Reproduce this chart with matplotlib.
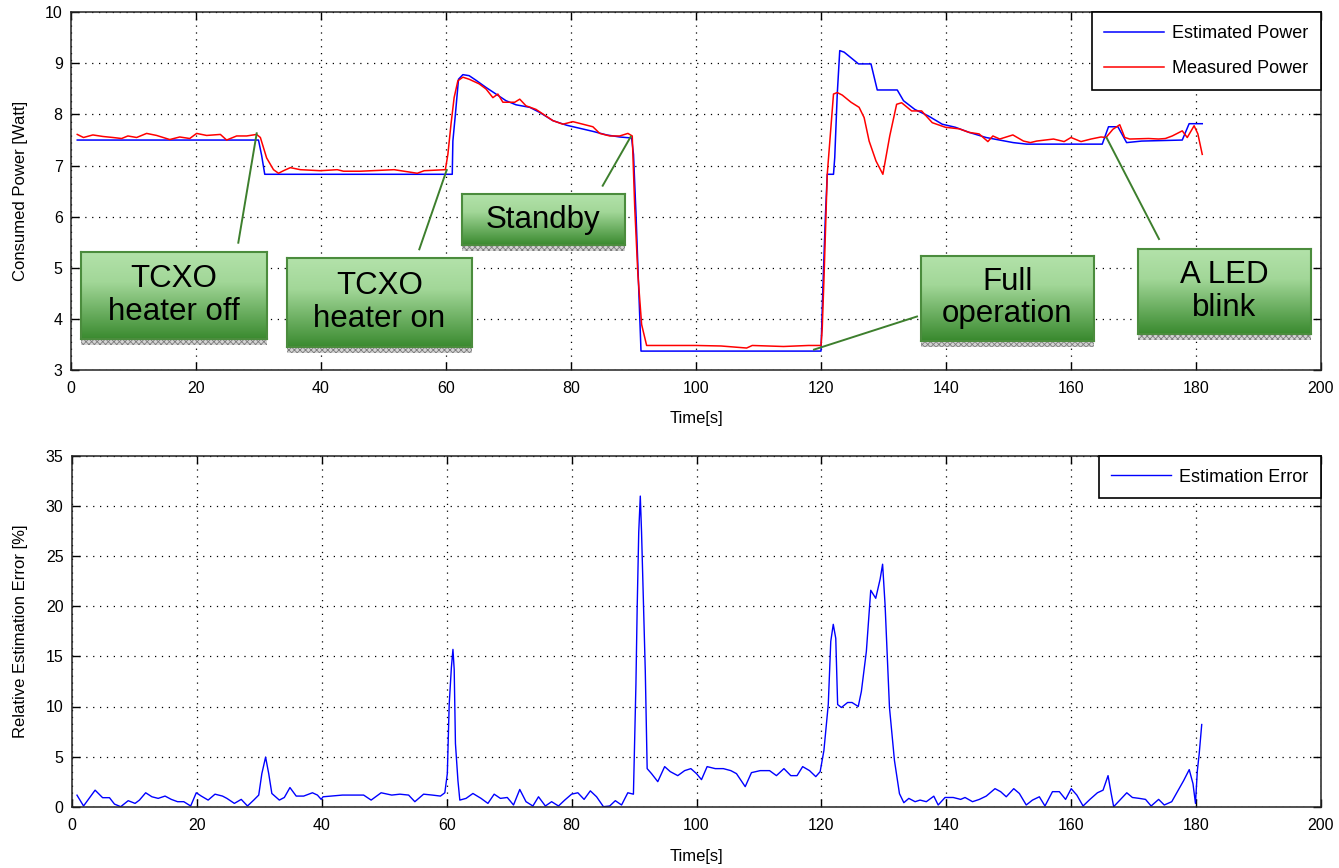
import numpy as np
import matplotlib
matplotlib.use("Agg")
import matplotlib.pyplot as plt
from matplotlib.lines import Line2D
from matplotlib.patches import Rectangle
from matplotlib.colors import LinearSegmentedColormap

plt.rcParams['font.family'] = ['Liberation Sans', 'DejaVu Sans']
plt.rcParams['hatch.linewidth'] = 0.6

# ---------------- data ----------------
est_time = [1, 30, 30.5, 31, 61, 61.1, 61.5, 62, 62.7, 63.7,
            64.8, 66.4, 68, 69.6, 71.2, 73.4, 75, 77.1, 79.3, 81.4,
            83.5, 85.7, 87.8, 89.7, 90, 90.4, 90.75, 91.2, 120, 120.3,
            120.7, 121, 122, 122.2, 122.6, 123, 123.7, 126, 128, 129,
            132.2, 133.2, 135, 137.2, 139.4, 141.5, 143.7, 146.4, 150.75, 152.9,
            165, 166, 167.5, 168.9, 171.3, 177.8, 178.9, 181]
est_power = [7.5, 7.5, 7.2, 6.83, 6.83, 7.48, 8.0, 8.69, 8.78, 8.76,
             8.67, 8.53, 8.4, 8.27, 8.19, 8.14, 8.04, 7.88, 7.79, 7.73,
             7.67, 7.6, 7.56, 7.54, 7.22, 6.05, 4.87, 3.37, 3.37, 4.6,
             6.0, 6.83, 6.83, 7.16, 8.4, 9.25, 9.22, 8.99, 8.99, 8.48,
             8.48, 8.27, 8.1, 7.97, 7.81, 7.75, 7.65, 7.55, 7.45, 7.42,
             7.42, 7.76, 7.76, 7.45, 7.48, 7.5, 7.82, 7.82]

meas_time = [1, 2, 3.5, 5.1, 6.7, 8.1, 9.1, 10.5, 12.1, 13.7,
             15.8, 17.4, 19, 20.1, 21.7, 23.9, 24.9, 26.5, 28.1, 29.7,
             30.3, 31.3, 32.4, 33.2, 34, 35.1, 36.7, 39.9, 42.6, 43.6,
             46.3, 51.7, 55.4, 56.5, 59.9, 60.3, 60.8, 61.3, 61.9, 62.7,
             63.7, 65.3, 66.4, 67.5, 68.3, 69.1, 69.9, 71, 71.8, 72.8,
             74.4, 76, 77.1, 78.7, 80.3, 81.9, 83.5, 84.6, 86.2, 87.8,
             89.1, 89.8, 90.2, 90.7, 91.3, 92.1, 96, 100, 104, 108.1,
             109, 114, 118, 120, 120.2, 120.5, 121, 122, 122.6, 123.4,
             124.8, 126.1, 126.9, 127.7, 128.8, 129.9, 131, 132.1, 132.9, 134.5,
             136.1, 137.8, 139.9, 142.1, 143.7, 145.3, 146.7, 147.5, 148.6, 150.7,
             152.4, 153.5, 154.5, 157.2, 158.9, 160, 161.6, 163.2, 164.8, 165.6,
             166.7, 167.8, 168.6, 169.4, 172.4, 174, 175.1, 176.2, 177.8, 178.6,
             179.7, 180.3, 181]
meas_power = [7.61, 7.55, 7.6, 7.57, 7.55, 7.53, 7.58, 7.55, 7.63, 7.59,
              7.51, 7.56, 7.53, 7.63, 7.59, 7.61, 7.5, 7.58, 7.58, 7.61,
              7.55, 7.15, 6.92, 6.85, 6.9, 6.96, 6.92, 6.9, 6.92, 6.89,
              6.89, 6.92, 6.85, 6.9, 6.92, 7.22, 7.81, 8.33, 8.66, 8.73,
              8.69, 8.6, 8.5, 8.33, 8.4, 8.24, 8.24, 8.24, 8.3, 8.17,
              8.1, 7.97, 7.88, 7.81, 7.86, 7.81, 7.76, 7.63, 7.58, 7.58,
              7.63, 7.58, 6.17, 4.87, 3.89, 3.48, 3.48, 3.48, 3.47, 3.43,
              3.48, 3.46, 3.48, 3.48, 3.82, 4.87, 6.83, 8.4, 8.43, 8.38,
              8.24, 8.14, 7.94, 7.48, 7.09, 6.83, 7.58, 8.2, 8.23, 8.07,
              8.07, 7.84, 7.75, 7.72, 7.65, 7.62, 7.47, 7.58, 7.52, 7.6,
              7.48, 7.45, 7.48, 7.52, 7.47, 7.55, 7.47, 7.52, 7.56, 7.55,
              7.71, 7.8, 7.55, 7.52, 7.53, 7.52, 7.53, 7.58, 7.68, 7.55,
              7.78, 7.62, 7.22]

err_time = [0.8, 1.85, 3.7, 4.9, 6.0, 6.8, 7.8, 9.0, 10.1, 10.8,
            11.8, 12.8, 13.8, 14.9, 15.9, 16.9, 17.9, 19.0, 19.9, 20.7,
            21.8, 22.9, 24.1, 24.8, 26.0, 27.1, 28.1, 29.1, 29.9, 30.4,
            31.0, 31.5, 32.0, 33.2, 34.0, 34.9, 35.9, 37.1, 38.5, 39.3,
            39.9, 40.2, 43.3, 46.7, 47.9, 49.5, 51.2, 52.5, 53.9, 54.9,
            56.3, 57.7, 59.0, 59.7, 60.1, 60.4, 60.75, 61.0, 61.2, 61.4,
            61.8, 62.1, 63.1, 64.2, 65.5, 66.6, 67.6, 68.6, 69.7, 70.7,
            71.7, 72.7, 73.8, 74.7, 75.8, 76.8, 77.9, 78.9, 80.0, 81.0,
            82.0, 83.0, 84.0, 85.1, 86.1, 87.0, 88.0, 89.0, 89.9, 90.3,
            90.5, 90.75, 91.0, 91.2, 91.5, 91.8, 92.1, 92.8, 93.8, 94.9,
            95.8, 97.0, 98.1, 99.1, 100.0, 100.8, 101.7, 103.0, 104.3, 105.5,
            106.4, 107.8, 108.8, 110.2, 111.7, 112.8, 114.0, 115.1, 116.1, 117.0,
            118.1, 119.1, 119.8, 120.4, 121.1, 121.5, 121.9, 122.3, 122.6, 123.2,
            124.2, 124.9, 125.9, 126.4, 127.2, 127.9, 128.7, 129.4, 129.8, 130.2,
            130.9, 131.7, 132.5, 133.2, 134.0, 135.0, 135.8, 136.8, 138.0, 138.7,
            139.8, 141.1, 142.3, 143.0, 144.2, 145.3, 146.4, 147.8, 148.7, 149.6,
            150.8, 151.7, 152.8, 153.8, 154.9, 155.8, 157.0, 158.1, 159.1, 160.0,
            160.9, 161.9, 163.0, 164.2, 165.1, 165.9, 166.4, 166.8, 167.9, 168.9,
            169.8, 170.9, 171.9, 172.8, 174.0, 174.9, 176.1, 177.0, 178.0, 178.9,
            179.5, 179.9, 180.2, 180.5, 180.9]
err_pct = [1.15, 0.07, 1.65, 0.9, 0.9, 0.26, 0.0, 0.6, 0.33, 0.66,
           1.39, 0.99, 0.83, 1.06, 0.73, 0.5, 0.5, 0.07, 1.39, 1.06,
           0.66, 1.25, 1.06, 0.83, 0.33, 0.73, 0.07, 0.66, 1.16, 3.3,
           4.95, 3.3, 1.32, 0.66, 0.92, 1.91, 1.06, 1.06, 1.39, 1.16,
           0.73, 0.99, 1.16, 1.16, 0.66, 1.39, 1.16, 1.25, 1.16, 0.5,
           1.25, 1.16, 1.06, 1.39, 3.3, 10.2, 13.9, 15.7, 13.7, 6.3,
           2.6, 0.66, 0.83, 1.32, 0.83, 0.33, 1.25, 0.83, 0.92, 0.17,
           1.72, 0.5, 0.07, 0.99, 0.07, 0.5, 0.07, 0.66, 1.25, 1.39,
           0.73, 1.58, 0.99, 0.0, 0.07, 0.6, 0.17, 1.39, 1.25, 12.2,
           19.8, 27.4, 31.0, 27.4, 20.5, 13.5, 3.8, 3.3, 2.5, 4.0,
           3.5, 3.1, 3.6, 3.8, 3.3, 2.7, 4.0, 3.8, 3.8, 3.6,
           3.3, 2.0, 3.4, 3.6, 3.6, 3.1, 3.8, 3.1, 3.1, 4.0,
           3.6, 3.0, 3.5, 5.6, 10.2, 16.5, 18.2, 16.8, 10.2, 9.9,
           10.4, 10.4, 10.0, 11.5, 15.5, 21.6, 20.8, 22.7, 24.2, 20.1,
           9.9, 4.6, 1.3, 0.4, 0.83, 0.5, 0.66, 0.5, 1.05, 0.17,
           0.92, 0.92, 0.73, 0.92, 0.5, 0.73, 1.06, 1.8, 1.5, 0.99,
           1.8, 1.32, 0.17, 0.66, 0.99, 0.07, 1.5, 1.5, 0.73, 1.8,
           1.16, 0.07, 0.73, 1.39, 1.65, 3.1, 1.32, 0.0, 0.73, 1.39,
           0.92, 0.83, 0.73, 0.07, 0.73, 0.17, 0.5, 1.5, 2.6, 3.7,
           2.3, 0.33, 3.6, 5.3, 8.2]

x_ticks = [0, 20, 40, 60, 80, 100, 120, 140, 160, 180, 200]
power_ticks = [3, 4, 5, 6, 7, 8, 9, 10]
err_ticks = [0, 5, 10, 15, 20, 25, 30, 35]

annotation_labels = ['TCXO\nheater off', 'TCXO\nheater on', 'Standby',
                     'Full\noperation', 'A LED\nblink']

# ---------------- figure ----------------
W, H = 1339, 868
fig = plt.figure(figsize=(W / 100, H / 100), dpi=100)
fig.patch.set_facecolor('white')

ax1 = fig.add_axes([71 / W, 1 - 370 / H, 1250 / W, (370 - 12.3) / H])
ax2 = fig.add_axes([72 / W, 1 - 806.7 / H, 1249 / W, (806.7 - 456) / H])

ax1.plot(est_time, est_power, color='#0000ff', lw=1.1, label='Estimated Power')
ax1.plot(meas_time, meas_power, color='#ff0000', lw=1.1, label='Measured Power')
ax1.set_xlim(0, 200)
ax1.set_ylim(3, 10)
ax1.set_yticks(power_ticks)

ax2.plot(err_time, err_pct, color='#0000ff', lw=1.0, label='Estimation Error')
ax2.set_xlim(0, 200)
ax2.set_ylim(0, 35)
ax2.set_yticks(err_ticks)

for ax in (ax1, ax2):
    ax.set_xticks(x_ticks)
    ax.grid(True, color='black', linestyle=(0, (1, 4.5)), linewidth=0.9)
    ax.tick_params(direction='in', top=True, right=True, length=6, width=1,
                   labelsize=11.5, pad=6)
    ax.tick_params(axis='x', pad=8)
    for s in ax.spines.values():
        s.set_linewidth(1.1)
        s.set_color('#222222')

ax1.set_ylabel('Consumed Power [Watt]', fontsize=12)
ax1.yaxis.set_label_coords(-0.034, 0.5)
ax1.set_xlabel('Time[s]', fontsize=12)
ax1.xaxis.set_label_coords(0.5, -0.115)
ax2.set_ylabel('Relative Estimation Error [%]', fontsize=12)
ax2.yaxis.set_label_coords(-0.035, 0.5)
ax2.set_xlabel('Time[s]', fontsize=12)
ax2.xaxis.set_label_coords(0.5, -0.122)

for ax in (ax1, ax2):
    leg = ax.legend(loc='upper right', fontsize=13, fancybox=False,
                    edgecolor='black', framealpha=1, borderaxespad=0,
                    handlelength=3.3, handletextpad=0.45, labelspacing=1.0,
                    borderpad=0.7)
    leg.get_frame().set_linewidth(1.2)

# ---------------- annotation boxes ----------------
cmap = LinearSegmentedColormap.from_list(
    'boxgrad', [(0.0, '#b3e2aa'), (0.35, '#a2d798'), (1.0, '#3a8a2f')])
grad = np.linspace(0, 1, 256).reshape(-1, 1)

box_layout = [  # x0, y0, x1, y1 (pixels), connector start, connector end
    (80.7, 251.7, 266.7, 339.3, (238.3, 242.7), (256.7, 133.3)),
    (286.7, 258.3, 471.7, 346.7, (419.3, 249.3), (446.7, 170.0)),
    (461.7, 194.3, 625.0, 245.0, (602.7, 185.7), (630.7, 136.7)),
    (920.5, 255.6, 1094.0, 340.5, (917.0, 316.5), (814.0, 349.6)),
    (1137.5, 249.0, 1311.0, 333.7, (1159.0, 239.0), (1106.5, 137.6)),
]

for label, (x0, y0, x1, y1, p0, p1) in zip(annotation_labels, box_layout):
    fig.add_artist(Line2D([p0[0] / W, p1[0] / W], [1 - p0[1] / H, 1 - p1[1] / H],
                          transform=fig.transFigure, color='#3d7f2d', lw=1.4,
                          zorder=5))
    shadow = Rectangle((x0 / W, 1 - (y1 + 6) / H), (x1 - x0) / W, 6 / H,
                       transform=fig.transFigure, facecolor='#d4d4d4',
                       edgecolor='#7d7d7d', hatch='xxxxxx', lw=0, zorder=5)
    fig.add_artist(shadow)
    bax = fig.add_axes([x0 / W, 1 - y1 / H, (x1 - x0) / W, (y1 - y0) / H])
    bax.set_zorder(6)
    bax.imshow(grad, aspect='auto', cmap=cmap, extent=[0, 1, 0, 1],
               origin='upper', interpolation='bilinear')
    bax.set_xlim(0, 1)
    bax.set_ylim(0, 1)
    bax.set_xticks([])
    bax.set_yticks([])
    for s in bax.spines.values():
        s.set_color('#4b8c3d')
        s.set_linewidth(1.5)
    bax.text(0.5, 0.5, label, ha='center', va='center', fontsize=22.5,
             linespacing=1.12, color='black')

fig.savefig('out.png', dpi=100)
